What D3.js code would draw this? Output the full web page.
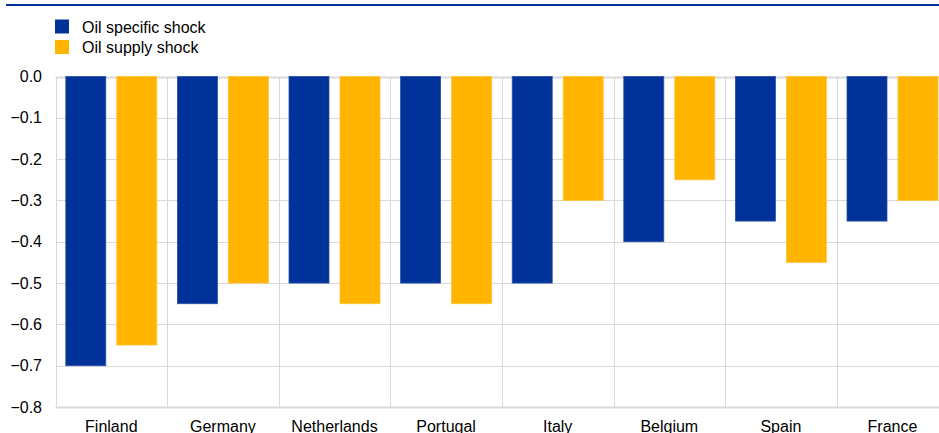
<!DOCTYPE html>
<html>
<head>
<meta charset="utf-8">
<script src="https://cdn.jsdelivr.net/npm/d3@7"></script>
<style>
  body { margin: 0; background: #fff; }
  svg { display: block; font-family: Arial, "Liberation Sans", sans-serif; }
</style>
</head>
<body>
<svg width="939" height="433"></svg>
<script>
let countries = ["Finland", "Germany", "Netherlands", "Portugal", "Italy", "Belgium", "Spain", "France"];
let oilSpecific = [-0.7, -0.55, -0.5, -0.5, -0.5, -0.4, -0.35, -0.35];
let oilSupply = [-0.65, -0.5, -0.55, -0.55, -0.3, -0.25, -0.45, -0.3];
let seriesNames = ["Oil specific shock", "Oil supply shock"];
let seriesColors = ["#003299", "#ffb400"];
let yTicks = [0, -0.1, -0.2, -0.3, -0.4, -0.5, -0.6, -0.7, -0.8];

let svg = d3.select('svg');

let plotLeft = 55.5, plotTop = 76.5, plotBottom = 407, bandW = 111.6;

let x = d3.scaleBand()
  .domain(countries)
  .range([plotLeft, plotLeft + bandW * countries.length])
  .paddingInner(0).paddingOuter(0);

// two bars per country: ~10px outer gap, 40px bars, 11px between
let x1 = d3.scaleBand()
  .domain([0, 1])
  .range([0, bandW])
  .paddingInner(0.216)
  .paddingOuter(0.202);

let y = d3.scaleLinear().domain([-0.8, 0]).range([plotBottom, plotTop]);

// top rule
svg.append('rect')
  .attr('x', 6).attr('y', 4).attr('width', 933).attr('height', 2)
  .attr('fill', '#003299');

// horizontal grid
svg.append('g')
  .selectAll('line')
  .data(yTicks)
  .enter()
  .append('line')
  .attr('x1', plotLeft).attr('x2', 939)
  .attr('y1', d => Math.round(y(d)) + 0.5)
  .attr('y2', d => Math.round(y(d)) + 0.5)
  .attr('stroke', '#d9d9d9')
  .attr('stroke-width', d => (d === 0 || d === -0.8) ? 2 : 1);

// vertical separators
svg.append('g')
  .selectAll('line')
  .data(d3.range(countries.length + 1))
  .enter()
  .append('line')
  .attr('x1', d => Math.round(plotLeft + d * bandW) + 0.5)
  .attr('x2', d => Math.round(plotLeft + d * bandW) + 0.5)
  .attr('y1', plotTop).attr('y2', plotBottom)
  .attr('stroke', '#d9d9d9');

// y tick labels
svg.append('g')
  .selectAll('text')
  .data(yTicks)
  .enter()
  .append('text')
  .attr('x', 42)
  .attr('y', d => y(d))
  .attr('dy', '0.35em')
  .attr('text-anchor', 'end')
  .attr('font-size', 16)
  .attr('fill', '#000')
  .text(d => d3.format('.1f')(d));

// bars
let series = [oilSpecific, oilSupply];
let groups = svg.append('g')
  .selectAll('g')
  .data(countries)
  .enter()
  .append('g')
  .attr('transform', d => 'translate(' + x(d) + ',0)');

groups.selectAll('rect')
  .data((d, i) => series.map((s, j) => ({ s: j, v: s[i] })))
  .enter()
  .append('rect')
  .attr('x', d => x1(d.s))
  .attr('width', x1.bandwidth())
  .attr('y', y(0))
  .attr('height', d => y(d.v) - y(0))
  .attr('fill', d => seriesColors[d.s])
  .attr('stroke', d => d.s === 0 ? '#2a4fa8' : '#ffc433')
  .attr('stroke-width', 0.8);

// x labels (bottom is clipped by the frame, as in the original)
svg.append('g')
  .selectAll('text')
  .data(countries)
  .enter()
  .append('text')
  .attr('x', d => x(d) + bandW / 2)
  .attr('y', 432)
  .attr('text-anchor', 'middle')
  .attr('font-size', 16)
  .attr('fill', '#000')
  .text(d => d);

// legend
let legend = svg.append('g')
  .selectAll('g')
  .data(seriesNames)
  .enter()
  .append('g')
  .attr('transform', (d, i) => 'translate(55,' + (19.5 + i * 20.5) + ')');

legend.append('rect')
  .attr('width', 14).attr('height', 14)
  .attr('fill', (d, i) => seriesColors[i]);

legend.append('text')
  .attr('x', 27).attr('y', 13)
  .attr('font-size', 16)
  .attr('fill', '#000')
  .text(d => d);
</script>
</body>
</html>
